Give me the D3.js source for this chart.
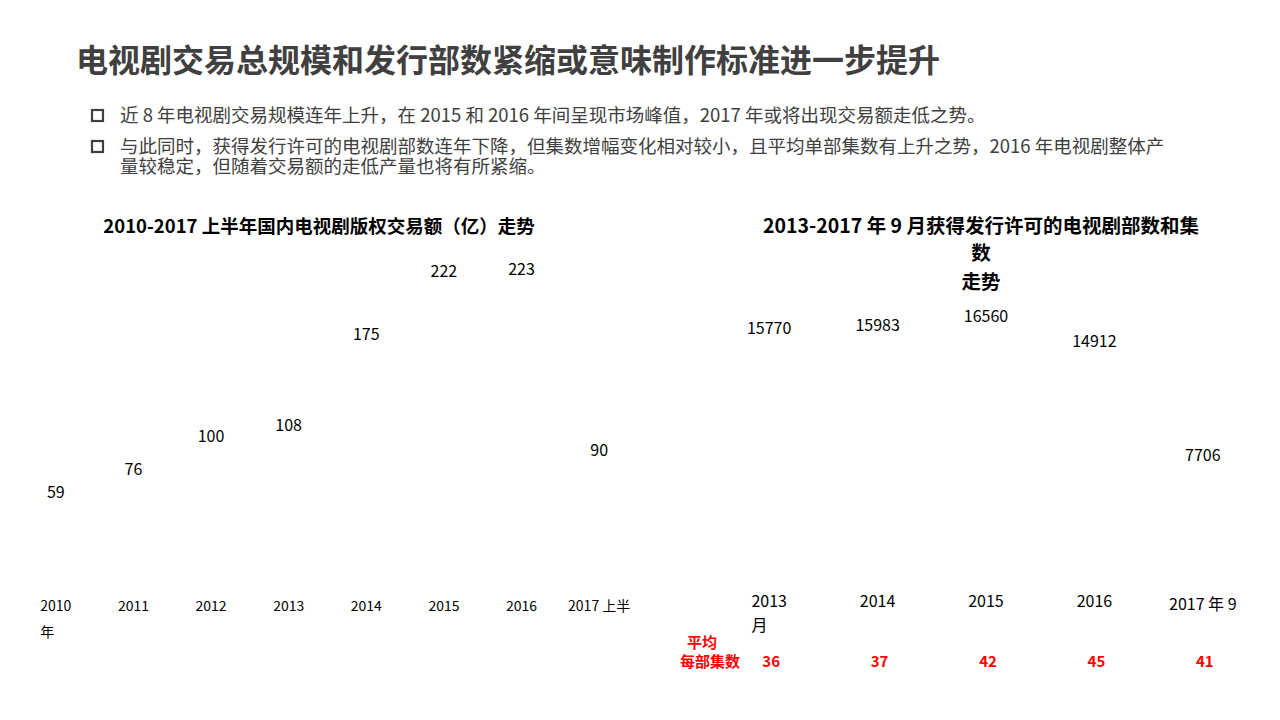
<!DOCTYPE html>
<html>
<head>
<meta charset="utf-8">
<script src="https://cdn.jsdelivr.net/npm/d3@7"></script>
<style>
  body { margin: 0; background: #fff; }
  text { font-family: "Noto Sans CJK SC", "Noto Sans", sans-serif; }
</style>
</head>
<body>
<svg id="chart" width="1280" height="720"></svg>
<script>
// left chart: copyright trade volume (亿)
const tradeYears = ["2010 年", "2011", "2012", "2013", "2014", "2015", "2016", "2017 上半"];
const tradeValues = [59, 76, 100, 108, 175, 222, 223, 90];

// right chart: licensed dramas (episodes)
const licYears = ["2013 月", "2014", "2015", "2016", "2017 年 9"];
const licEpisodes = [15770, 15983, 16560, 14912, 7706];
const avgEpisodes = [36, 37, 42, 45, 41];

const bullets = [
    ["近 8 年电视剧交易规模连年上升，在 2015 和 2016 年间呈现市场峰值，2017 年或将出现交易额走低之势。"],
    ["与此同时，获得发行许可的电视剧部数连年下降，但集数增幅变化相对较小，且平均单部集数有上升之势，2016 年电视剧整体产",
     "量较稳定，但随着交易额的走低产量也将有所紧缩。"]
];

const svg = d3.select("#chart");
const grey = "#404040";

svg.append("text")
    .attr("x", 76).attr("y", 72)
    .attr("font-size", 32).attr("font-weight", "bold")
    .attr("fill", grey)
    .text("电视剧交易总规模和发行部数紧缩或意味制作标准进一步提升");

// bullet points
let by = 122;
bullets.forEach(lines => {
    svg.append("rect")
        .attr("x", 92).attr("y", by - 12).attr("width", 11).attr("height", 11)
        .attr("fill", "none").attr("stroke", grey).attr("stroke-width", 2.2);
    lines.forEach((l, i) => {
        svg.append("text")
            .attr("x", 120).attr("y", by + i * 20)
            .attr("font-size", 18.5).attr("fill", grey)
            .attr("textLength", l.length > 40 ? null : null)
            .text(l);
    });
    by += 31;
});

// ---- left chart ----
const x1 = d3.scaleBand().domain(tradeYears).range([17, 638]);
const y1 = d3.scaleLinear().domain([0, 250]).range([572, 233]);

svg.append("text")
    .attr("x", 319).attr("y", 233)
    .attr("text-anchor", "middle")
    .attr("font-size", 18.5).attr("font-weight", "bold").attr("fill", "#000")
    .text("2010-2017 上半年国内电视剧版权交易额（亿）走势");

svg.selectAll(".v1")
    .data(tradeValues)
    .enter().append("text")
    .attr("class", "v1")
    .attr("x", (d, i) => x1(tradeYears[i]) + x1.bandwidth() / 2)
    .attr("y", d => y1(d))
    .attr("dy", "0.35em")
    .attr("text-anchor", "middle")
    .attr("font-size", 16)
    .text(d => d);

const cat1 = svg.selectAll(".c1")
    .data(tradeYears)
    .enter().append("text")
    .attr("class", "c1")
    .attr("font-size", 14);
cat1.each(function(d) {
    const t = d3.select(this);
    const cx = x1(d) + x1.bandwidth() / 2;
    const parts = d === "2010 年" ? ["2010", "年"] : [d];
    parts.forEach((p, i) => t.append("tspan").attr("y", 611 + i * 26).text(p));
    const w = this.querySelector("tspan").getComputedTextLength();
    t.selectAll("tspan").attr("x", cx - w / 2);
});

// ---- right chart ----
const x2 = d3.scaleBand().domain(licYears).range([715, 1257]);
const y2 = d3.scaleLinear().domain([0, 20000]).range([576, 262]);

const t2 = svg.append("text")
    .attr("text-anchor", "middle")
    .attr("font-size", 19.5).attr("font-weight", "bold").attr("fill", "#000");
[["2013-2017 年 9 月获得发行许可的电视剧部数和集", 233], ["数", 260], ["走势", 289]]
    .forEach(([s, y]) => t2.append("tspan").attr("x", 981).attr("y", y).text(s));

svg.selectAll(".v2")
    .data(licEpisodes)
    .enter().append("text")
    .attr("class", "v2")
    .attr("x", (d, i) => x2(licYears[i]) + x2.bandwidth() / 2)
    .attr("y", d => y2(d))
    .attr("dy", "0.35em")
    .attr("text-anchor", "middle")
    .attr("font-size", 16)
    .text(d => d);

svg.selectAll(".c2")
    .data(licYears)
    .enter().append("text")
    .attr("class", "c2")
    .attr("font-size", 16)
    .each(function(d, i) {
        const t = d3.select(this);
        const cx = x2(d) + x2.bandwidth() / 2;
        const parts = d === "2013 月" ? ["2013", "月"] : [d];
        const base = i === 4 ? 610 : 607;
        parts.forEach((p, j) => t.append("tspan").attr("y", base + j * 24).text(p));
        const w = this.querySelector("tspan").getComputedTextLength();
        t.selectAll("tspan").attr("x", cx - w / 2);
    });

// average episodes per drama
const red = "#ff0000";
const lab = svg.append("text")
    .attr("text-anchor", "middle")
    .attr("font-size", 15).attr("font-weight", "bold").attr("fill", red);
lab.append("tspan").attr("x", 702).attr("y", 648).text("平均");
lab.append("tspan").attr("x", 710).attr("y", 667).text("每部集数");

svg.selectAll(".avg")
    .data(avgEpisodes)
    .enter().append("text")
    .attr("class", "avg")
    .attr("x", (d, i) => x2(licYears[i]) + x2.bandwidth() / 2 + 2)
    .attr("y", 667)
    .attr("text-anchor", "middle")
    .attr("font-size", 15).attr("font-weight", "bold").attr("fill", red)
    .text(d => d);
</script>
</body>
</html>
